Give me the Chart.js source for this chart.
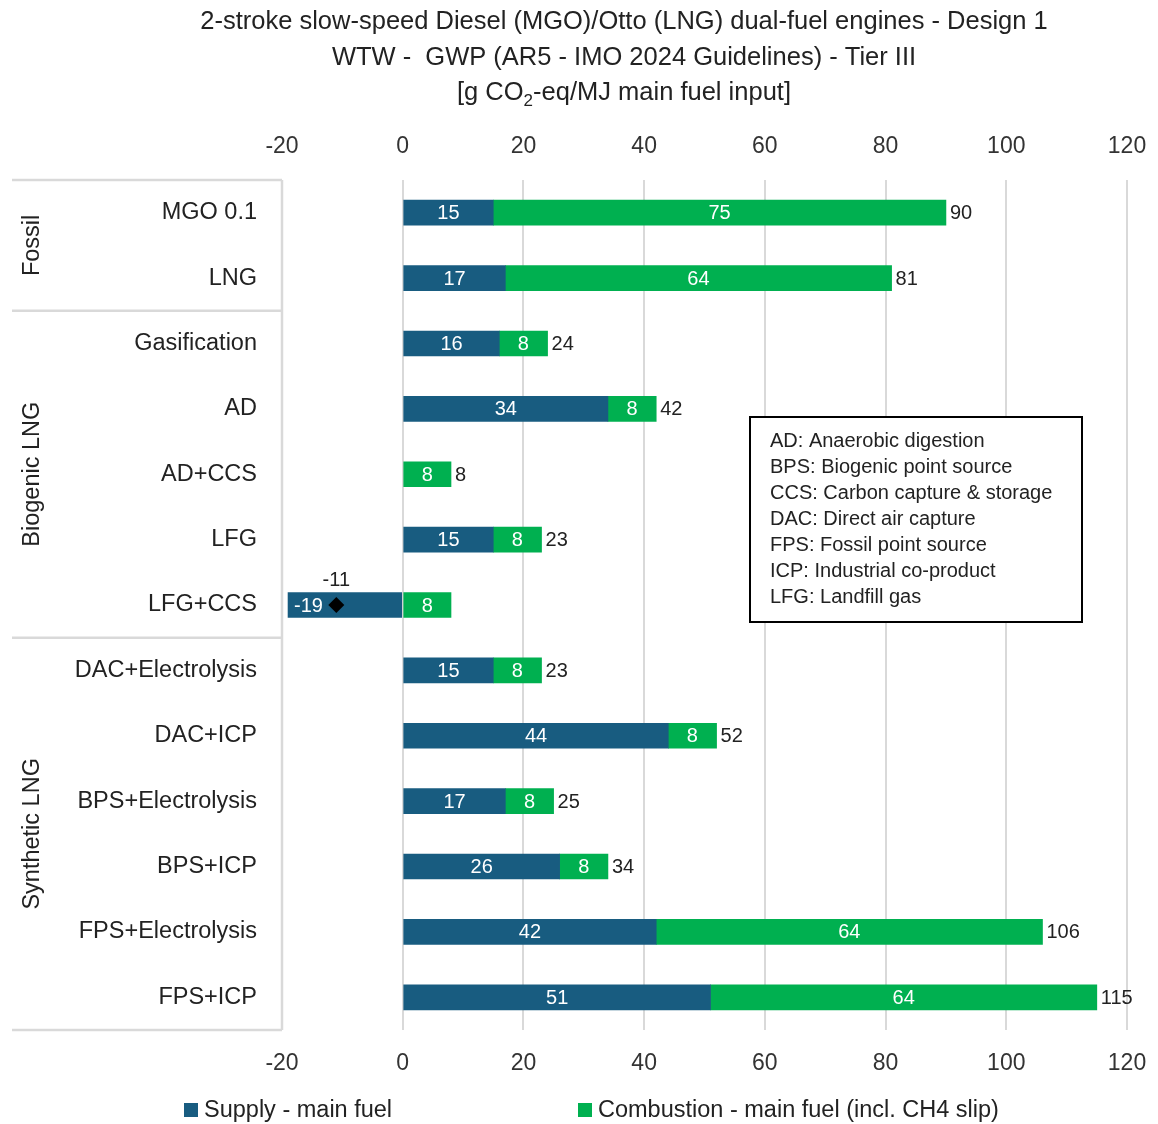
<!DOCTYPE html>
<html>
<head>
<meta charset="utf-8">
<script src="https://cdn.jsdelivr.net/npm/chart.js@4/dist/chart.umd.min.js"></script>
<style>
  html, body { margin: 0; padding: 0; background: #fff; }
  #wrap { width: 1158px; height: 1124px; position: relative; }
</style>
</head>
<body>
<div id="wrap"><canvas id="chart"></canvas></div>
<script>
// Fuel pathways (one bar each)
const categories = ['MGO 0.1', 'LNG', 'Gasification', 'AD', 'AD+CCS', 'LFG', 'LFG+CCS',
  'DAC+Electrolysis', 'DAC+ICP', 'BPS+Electrolysis', 'BPS+ICP', 'FPS+Electrolysis', 'FPS+ICP'];
// Emission components, g CO2-eq/MJ main fuel input (null = no supply segment shown)
const supply = [15, 17, 16, 34, null, 15, -19, 15, 44, 17, 26, 42, 51];
const combustion = [75, 64, 8, 8, 8, 8, 8, 8, 8, 8, 8, 64, 64];
const totals = [90, 81, 24, 42, 8, 23, -11, 23, 52, 25, 34, 106, 115];
// Pathway groups, in order, with the number of bars in each
const groupNames = ['Fossil', 'Biogenic LNG', 'Synthetic LNG'];
const groupSizes = [2, 5, 6];
// Value axis
const xMin = -20, xMax = 120, xStep = 20;
const seriesNames = ['Supply - main fuel', 'Combustion - main fuel (incl. CH4 slip)'];
const abbreviations = [
  'AD: Anaerobic digestion',
  'BPS: Biogenic point source',
  'CCS: Carbon capture & storage',
  'DAC: Direct air capture',
  'FPS: Fossil point source',
  'ICP: Industrial co-product',
  'LFG: Landfill gas'
];

const FONT = '"Liberation Sans", Arial, sans-serif';
const TEXT = '#222222';
const BLUE = '#185C80';
const GREEN = '#00B050';
const GRID = '#D9D9D9';

const decor = {
  id: 'decor',
  beforeDatasetsDraw(chart) {
    const ctx = chart.ctx;
    const y = chart.scales.y;
    const area = chart.chartArea;
    const step = y.getPixelForValue(1) - y.getPixelForValue(0);
    ctx.save();
    ctx.strokeStyle = GRID;
    ctx.lineWidth = 2.5;
    // group brackets on the left
    ctx.beginPath();
    ctx.moveTo(area.left, area.top);
    ctx.lineTo(area.left, area.bottom);
    let idx = 0;
    const bounds = [y.getPixelForValue(0) - step / 2];
    groupSizes.forEach(n => { idx += n; bounds.push(y.getPixelForValue(idx - 1) + step / 2); });
    bounds.forEach(b => { ctx.moveTo(12, b); ctx.lineTo(area.left, b); });
    ctx.stroke();
    // group names, rotated
    ctx.fillStyle = TEXT;
    ctx.font = '23.5px ' + FONT;
    ctx.textAlign = 'center';
    ctx.textBaseline = 'middle';
    groupNames.forEach((g, i) => {
      const cy = (bounds[i] + bounds[i + 1]) / 2;
      ctx.save();
      ctx.translate(33, cy);
      ctx.rotate(-Math.PI / 2);
      ctx.fillText(g, 0, 0);
      ctx.restore();
    });
    ctx.restore();
  },
  afterDatasetsDraw(chart) {
    const ctx = chart.ctx;
    const xs = chart.scales.x;
    ctx.save();
    ctx.font = '20px ' + FONT;
    ctx.textBaseline = 'middle';
    // values inside the segments (negative ones sit at the outer end)
    [0, 1].forEach(di => {
      const meta = chart.getDatasetMeta(di);
      const vals = chart.data.datasets[di].data;
      meta.data.forEach((el, i) => {
        if (!vals[i]) return;
        ctx.fillStyle = '#ffffff';
        if (vals[i] < 0) {
          ctx.textAlign = 'left';
          ctx.fillText(String(vals[i]), el.x + 6, el.y + 1);
        } else {
          ctx.textAlign = 'center';
          ctx.fillText(String(vals[i]), (el.x + el.base) / 2, el.y + 1);
        }
      });
    });
    // totals
    const tmeta = chart.getDatasetMeta(2);
    tmeta.data.forEach((pt, i) => {
      ctx.fillStyle = TEXT;
      if (totals[i] < 0) {
        ctx.textAlign = 'center';
        ctx.fillText(String(totals[i]), pt.x, pt.y - 25);
      } else {
        ctx.textAlign = 'left';
        ctx.fillText(String(totals[i]), xs.getPixelForValue(totals[i]) + 4, pt.y + 1);
      }
    });
    ctx.restore();
  },
  afterDraw(chart) {
    const ctx = chart.ctx;
    ctx.save();
    ctx.fillStyle = TEXT;
    ctx.textBaseline = 'middle';
    // title
    ctx.font = '25.5px ' + FONT;
    ctx.textAlign = 'center';
    const cx = 624;
    ctx.fillText('2-stroke slow-speed Diesel (MGO)/Otto (LNG) dual-fuel engines - Design 1', cx, 22);
    ctx.fillText('WTW -  GWP (AR5 - IMO 2024 Guidelines) - Tier III', cx, 58);
    // third line with subscript
    const p1 = '[g CO', sub = '2', p2 = '-eq/MJ main fuel input]';
    ctx.font = '25.5px ' + FONT;
    const w1 = ctx.measureText(p1).width, w3 = ctx.measureText(p2).width;
    ctx.font = '17px ' + FONT;
    const w2 = ctx.measureText(sub).width;
    let x0 = cx - (w1 + w2 + w3) / 2;
    ctx.textAlign = 'left';
    ctx.font = '25.5px ' + FONT;
    ctx.fillText(p1, x0, 93);
    ctx.font = '17px ' + FONT;
    ctx.fillText(sub, x0 + w1, 101);
    ctx.font = '25.5px ' + FONT;
    ctx.fillText(p2, x0 + w1 + w2, 93);

    // legend
    ctx.font = '23.5px ' + FONT;
    const legendX = [184, 578];
    [BLUE, GREEN].forEach((c, i) => {
      ctx.fillStyle = c;
      ctx.fillRect(legendX[i], 1103, 14, 14);
      ctx.fillStyle = TEXT;
      ctx.fillText(seriesNames[i], legendX[i] + 20, 1111);
    });

    // abbreviations box
    ctx.fillStyle = '#ffffff';
    ctx.fillRect(750, 417, 332, 205);
    ctx.strokeStyle = '#000000';
    ctx.lineWidth = 2;
    ctx.strokeRect(750, 417, 332, 205);
    ctx.fillStyle = TEXT;
    ctx.font = '20px ' + FONT;
    abbreviations.forEach((t, i) => ctx.fillText(t, 770, 441 + i * 26));
    ctx.restore();
  }
};

const xTickCommon = {
  stepSize: xStep,
  color: '#333333',
  font: { size: 23, family: FONT },
  padding: 20
};

// horizontal axes: fixed height, no extra side padding for the end labels
const fitX = h => s => { s.height = h; s.paddingLeft = 0; s.paddingRight = 0; };

new Chart(document.getElementById('chart'), {
  type: 'bar',
  data: {
    labels: categories,
    datasets: [
      { label: seriesNames[0], data: supply, backgroundColor: BLUE, barThickness: 25, order: 2 },
      { label: seriesNames[1], data: combustion, backgroundColor: GREEN, barThickness: 25, order: 2 },
      {
        type: 'line', label: 'Total', data: totals, showLine: false, order: 1,
        pointStyle: 'rectRot', backgroundColor: '#000', borderColor: '#000',
        pointRadius: totals.map(v => v < 0 ? 8 : 0), pointBorderWidth: 0,
        pointHoverRadius: 0
      }
    ]
  },
  options: {
    indexAxis: 'y',
    responsive: true,
    maintainAspectRatio: false,
    animation: false,
    events: [],
    layout: { padding: { left: 0, right: 31, top: 0, bottom: 0 } },
    plugins: { legend: { display: false }, tooltip: { enabled: false }, title: { display: false } },
    scales: {
      x: {
        type: 'linear', position: 'bottom', stacked: true, min: xMin, max: xMax,
        ticks: xTickCommon,
        grid: { color: GRID, lineWidth: 2, drawTicks: false },
        border: { display: false },
        afterFit: fitX(94)
      },
      x2: {
        type: 'linear', position: 'top', min: xMin, max: xMax,
        ticks: xTickCommon,
        grid: { display: false, drawTicks: false },
        border: { display: false },
        afterFit: fitX(180)
      },
      y: {
        type: 'category', stacked: true,
        ticks: { color: TEXT, font: { size: 23.5, family: FONT }, padding: 25 },
        grid: { display: false, drawTicks: false },
        border: { display: false },
        afterFit: s => { s.width = 282; }
      }
    }
  },
  plugins: [decor]
});
</script>
</body>
</html>
